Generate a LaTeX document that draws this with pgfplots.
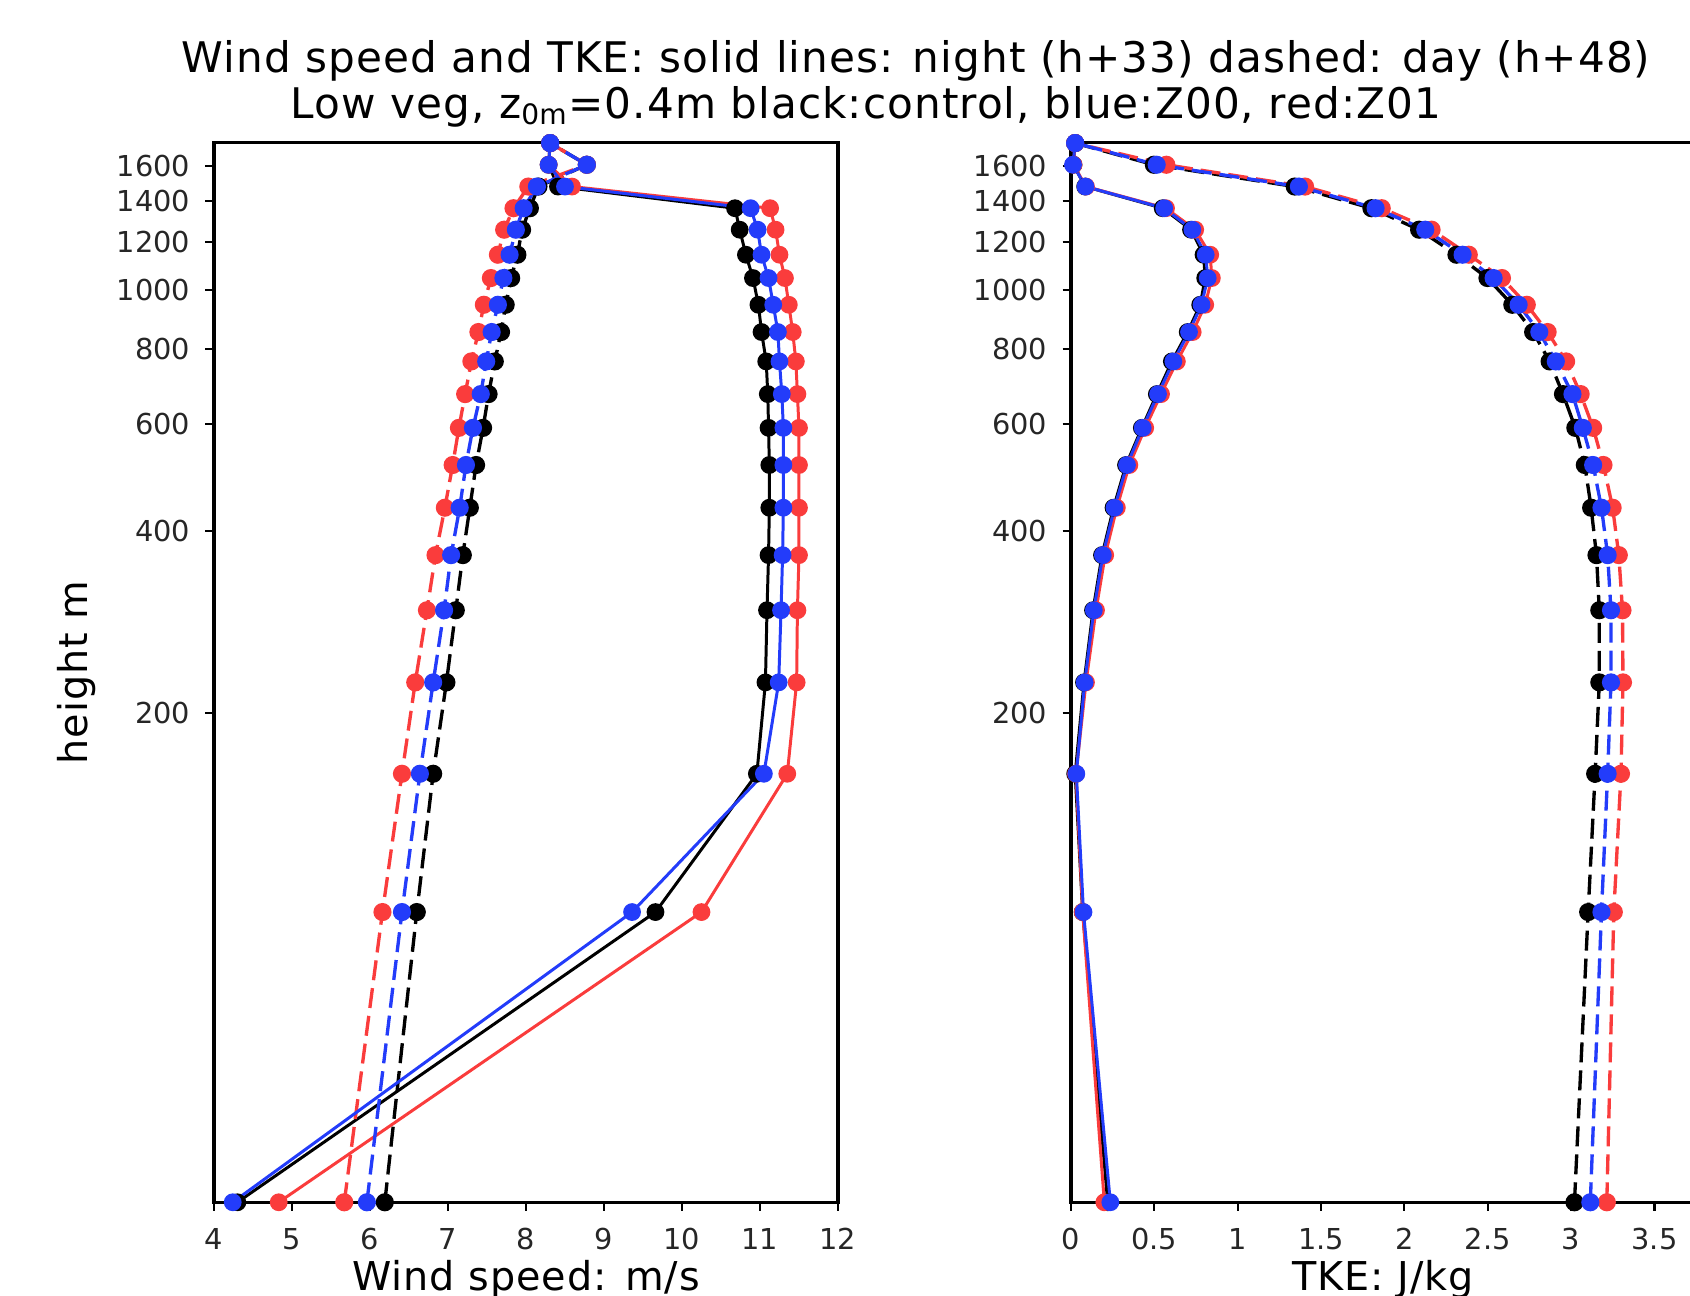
\documentclass[border=0pt]{standalone}
\usepackage{fontspec}
\setmainfont{DejaVu Sans}
\newfontfamily\titlefont[LetterSpace=2.5]{DejaVu Sans}
\usepackage{pgfplots}
\pgfplotsset{compat=1.18}
\usepackage{pgfplotstable}

\definecolor{zred}{RGB}{250,60,60}
\definecolor{zblue}{RGB}{35,60,250}

% height [m]; night (solid): black/blue/red; day (dashed): black/blue/red
\pgfplotstableread{
z     nk     nb     nr     dk    db    dr
31.2  4.30   4.24   4.83   6.19  5.96  5.67
94    9.66   9.36   10.25  6.60  6.41  6.16
159   10.96  11.05  11.35  6.81  6.64  6.41
225   11.07  11.24  11.47  6.98  6.81  6.58
296   11.09  11.27  11.48  7.10  6.95  6.73
365   11.11  11.29  11.50  7.19  7.04  6.84
437   11.12  11.30  11.50  7.28  7.15  6.96
514   11.12  11.30  11.50  7.36  7.23  7.06
592   11.11  11.30  11.50  7.45  7.32  7.14
673   11.10  11.28  11.48  7.52  7.42  7.22
762   11.08  11.25  11.46  7.60  7.49  7.30
852   11.02  11.23  11.42  7.68  7.56  7.39
945   10.98  11.17  11.37  7.74  7.64  7.46
1046  10.91  11.11  11.32  7.81  7.71  7.55
1143  10.82  11.02  11.25  7.89  7.79  7.64
1257  10.74  10.97  11.20  7.95  7.87  7.72
1364  10.68  10.88  11.13  8.05  7.97  7.84
1481  8.41   8.50   8.59   8.16  8.14  8.03
1609  8.29   8.29   8.29   8.78  8.78  8.78
1747  8.31   8.31   8.31   8.31  8.31  8.31
}\windtab

\pgfplotstableread{
z     nk     nb     nr     dk     db     dr
31.2  0.220  0.236  0.200  3.020  3.115  3.214
94    0.070  0.075  0.070  3.102  3.182  3.256
159   0.025  0.032  0.030  3.144  3.219  3.299
225   0.078  0.082  0.090  3.169  3.239  3.311
296   0.132  0.137  0.150  3.169  3.239  3.308
365   0.186  0.191  0.205  3.152  3.219  3.286
437   0.255  0.261  0.275  3.120  3.182  3.249
514   0.330  0.336  0.350  3.082  3.132  3.194
592   0.425  0.430  0.445  3.025  3.070  3.132
673   0.515  0.522  0.540  2.951  3.008  3.057
762   0.605  0.614  0.635  2.871  2.908  2.970
852   0.700  0.708  0.730  2.772  2.809  2.859
945   0.775  0.783  0.805  2.647  2.685  2.734
1046  0.805  0.820  0.845  2.498  2.535  2.585
1143  0.795  0.808  0.835  2.312  2.349  2.386
1257  0.720  0.728  0.745  2.088  2.125  2.163
1364  0.550  0.559  0.570  1.802  1.827  1.864
1481  0.085  0.087  0.090  1.342  1.367  1.404
1609  0.015  0.012  0.015  0.497  0.514  0.572
1747  0.025  0.025  0.025  0.025  0.025  0.025
}\tketab

\pgfplotsset{
  prof/.style={
    scale only axis, width=62.4mm, height=105.96mm,
    ymin=31.2, ymax=1750,
    ytick={200,400,600,800,1000,1200,1400,1600},
    yticklabels={200,400,600,800,1000,1200,1400,1600},
    yminorticks=false,
    tick pos=left, tick align=outside,
    major tick length=0.85mm,
    axis line style={line width=0.9pt},
    every tick/.style={line width=0.6pt, black},
    tick label style={font=\fontsize{8.2}{9}\selectfont, text=black!85},
    xticklabel style={yshift=-0.5mm},
    yticklabel style={xshift=-0.3mm},
    /pgf/number format/assume math mode=true,
    label style={font=\titlefont\fontsize{11.3}{12}\selectfont},
    xlabel style={at={(axis description cs:0.5,-0.0828)}, anchor=base},
    clip=false,
  },
  night/.style={line width=0.85pt, solid, mark=*, mark size=2.1pt},
  day/.style={line width=0.95pt, dash pattern=on 2mm off 0.8mm,
    mark=*, mark size=2.1pt, mark options={solid}},
}

\begin{document}
\begin{tikzpicture}

\begin{axis}[ymode=log, prof, at={(21.4mm,9.37mm)}, anchor=south west,
    xmin=4, xmax=12, xtick={4,5,...,12},
    xticklabels={4,5,6,7,8,9,10,11,12},
    xlabel={Wind speed: m/s}, ylabel={height m},
    ylabel style={at={(axis description cs:-0.2196,0.5)}, anchor=center}]
\addplot[night, black] table[x=nk, y=z] {\windtab};
\addplot[day, black]   table[x=dk, y=z] {\windtab};
\addplot[night, zred]  table[x=nr, y=z] {\windtab};
\addplot[day, zred]    table[x=dr, y=z] {\windtab};
\addplot[night, zblue] table[x=nb, y=z] {\windtab};
\addplot[day, zblue]   table[x=db, y=z] {\windtab};
\end{axis}

\begin{axis}[ymode=log, prof, at={(107.1mm,9.37mm)}, anchor=south west,
    xmin=0, xmax=3.743, xtick={0,0.5,...,3.5},
    xticklabels={0,0.5,1,1.5,2,2.5,3,3.5},
    xlabel={TKE: J/kg}]
\addplot[night, black] table[x=nk, y=z] {\tketab};
\addplot[day, black]   table[x=dk, y=z] {\tketab};
\addplot[night, zred]  table[x=nr, y=z] {\tketab};
\addplot[day, zred]    table[x=dr, y=z] {\tketab};
\addplot[night, zblue] table[x=nb, y=z] {\tketab};
\addplot[day, zblue]   table[x=db, y=z] {\tketab};
\end{axis}

\node[anchor=base, font=\titlefont\fontsize{12}{13}\selectfont] at (91.6mm,122.3mm)
  {Wind speed and TKE: solid lines: night (h+33) dashed: day (h+48)};
\node[anchor=base, font=\titlefont\fontsize{12}{13}\selectfont] at (86.6mm,117.74mm)
  {Low veg, z$_{\mathrm{0m}}$=0.4m black:control, blue:Z00, red:Z01};

\pgfresetboundingbox
\useasboundingbox (0,0) rectangle (169mm,129.6mm);
\end{tikzpicture}
\end{document}
